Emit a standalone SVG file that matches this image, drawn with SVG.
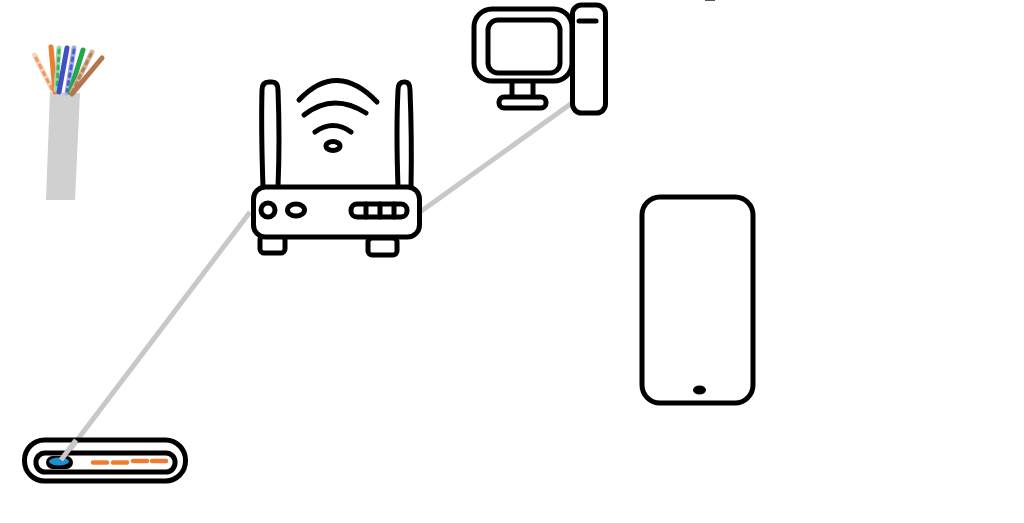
<svg xmlns="http://www.w3.org/2000/svg" width="1024" height="523" viewBox="0 0 1024 523">
<style>
.k{fill:none;stroke:#000;stroke-width:5;stroke-linecap:round;stroke-linejoin:round}
.w{fill:#fff;stroke:#000;stroke-width:5;stroke-linejoin:round}
.c{fill:none;stroke:#c8c8c8;stroke-width:5;stroke-linecap:butt}
.t{fill:none;stroke-width:5;stroke-linecap:round}
.d{fill:none;stroke-width:3;stroke-linecap:round;stroke-dasharray:3 5}
.o{fill:none;stroke:#ed7d31;stroke-width:4.500;stroke-linecap:round}
</style>
<rect width="1024" height="523" fill="#fff"/>
<g id="cable">
<polygon points="50,92 80,93 75,200 46,200" fill="#d0d0d0"/>
<line class="t" x1="34.500" y1="55" x2="53" y2="91" stroke="#f8d5bc"/>
<line class="d" x1="36" y1="58" x2="52" y2="89" stroke="#ed9a62"/>
<line class="t" x1="51" y1="47" x2="55" y2="92" stroke="#ed7d31"/>
<line class="t" x1="59" y1="48" x2="56" y2="90" stroke="#a5d6b0"/>
<line class="d" x1="59" y1="50" x2="57" y2="88" stroke="#3faf62"/>
<line class="t" x1="67" y1="48" x2="59" y2="92" stroke="#3f4fc4"/>
<line class="t" x1="74" y1="48" x2="67" y2="93" stroke="#a4abe4"/>
<line class="d" x1="74" y1="50" x2="67" y2="91" stroke="#4f5fc8"/>
<line class="t" x1="83" y1="50" x2="70" y2="92" stroke="#21a84f"/>
<line class="t" x1="92" y1="52" x2="72" y2="92" stroke="#d9b298"/>
<line class="d" x1="91" y1="54" x2="73" y2="90" stroke="#b9805c"/>
<line class="t" x1="102" y1="58" x2="72" y2="94" stroke="#b5764f"/>
</g>
<g id="connectors">
<line class="c" x1="250" y1="212" x2="62" y2="460"/>
<line class="c" x1="420" y1="212" x2="572" y2="103"/>
</g>
<g id="router">
<path class="k" d="M263 187Q261 130 262 90Q262 82 269 82H272Q278 82 278 90Q280 140 278 187"/>
<path class="k" d="M398 187Q396 130 398 90Q398 82 404 82H405Q410 82 410 90Q412 140 411 187"/>
<rect class="w" x="260" y="236" width="25" height="17" rx="4"/>
<rect class="w" x="368" y="238" width="29" height="17" rx="4"/>
<rect class="w" x="253.500" y="187" width="166" height="50" rx="12"/>
<circle class="k" cx="268" cy="210" r="7"/>
<ellipse class="k" cx="296" cy="210" rx="8.500" ry="6"/>
<rect class="k" x="351" y="204" width="56" height="13" rx="6"/>
<path class="k" d="M366 204V217M380 204V217M394 204V217"/>
<path class="k" d="M299 100Q337 60 377 102M304 115Q333 92 366 113M315 132Q333 119 351 132"/>
<ellipse class="k" cx="333" cy="146" rx="7" ry="4.500"/>
</g>
<g id="computer">
<rect class="k" x="474" y="9" width="98" height="72" rx="18"/>
<rect class="k" x="488" y="20" width="72" height="53" rx="10"/>
<path class="k" d="M512 83V95M533 83V95"/>
<rect class="k" x="499" y="97" width="47" height="11" rx="5"/>
<rect class="w" x="572.500" y="5" width="33" height="108" rx="9"/>
<line class="k" x1="579" y1="21" x2="596" y2="21"/>
</g>
<g id="phone">
<rect class="k" x="642" y="197" width="111" height="206" rx="18"/>
<ellipse cx="699.500" cy="390" rx="6.500" ry="4.500" fill="#000"/>
</g>
<g id="modem">
<rect class="k" x="24.500" y="440" width="161" height="41" rx="20"/>
<rect class="k" x="36" y="453" width="139" height="19" rx="9"/>
<rect x="46" y="456" width="27" height="13" rx="6.500" fill="#000"/>
<ellipse cx="59" cy="461.500" rx="10" ry="4" fill="#1a8fd0"/>
<path class="o" d="M93 462.500H107M113 462.500H127M133 461H147M152 461H166"/>
<line class="c" x1="76" y1="440" x2="61" y2="460"/>
</g>
<line x1="705" y1="0.500" x2="715" y2="0.500" stroke="#555" stroke-width="1"/>
</svg>
